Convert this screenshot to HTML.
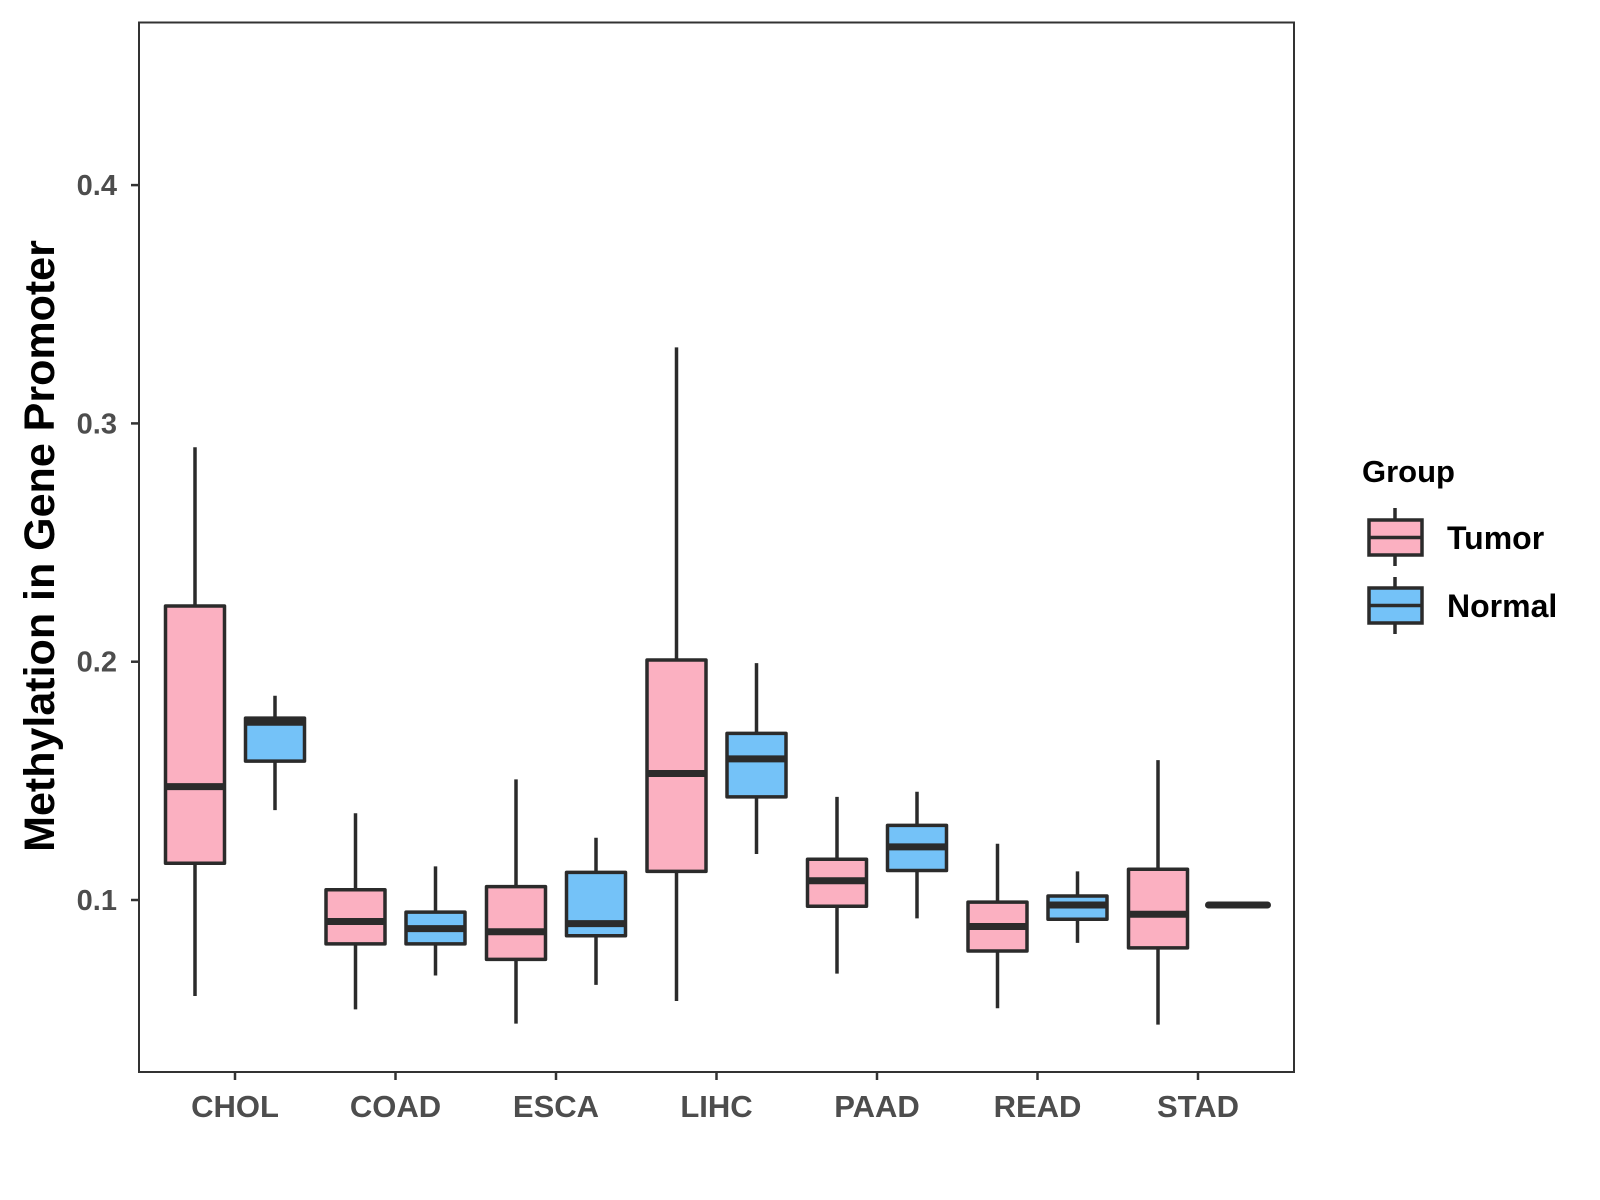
<!DOCTYPE html>
<html><head><meta charset="utf-8"><style>
html,body{margin:0;padding:0;background:#fff;}
svg{display:block;font-family:"Liberation Sans",sans-serif;}
</style></head><body>
<svg id="chart" width="1600" height="1200" viewBox="0 0 1600 1200">
<rect x="139" y="22.5" width="1155" height="1049.5" fill="#fff" stroke="#333" stroke-width="2"/>
<g id="marks"></g>
<g id="axes"></g>
<text x="0" y="0" transform="translate(54,546) rotate(-90)" text-anchor="middle" font-size="43" font-weight="bold" fill="#000">Methylation in Gene Promoter</text>
<g>
<text x="1362" y="482" font-size="31" font-weight="bold" fill="#000">Group</text>
<g>
<line x1="1395" y1="508" x2="1395" y2="566" stroke="#2b2b2b" stroke-width="3.5"/>
<rect x="1369" y="520" width="53" height="35" fill="#FBB0C1" stroke="#2b2b2b" stroke-width="3.5"/>
<line x1="1369" y1="537.5" x2="1422" y2="537.5" stroke="#2b2b2b" stroke-width="3.5"/>
<text x="1447" y="549" font-size="32" font-weight="bold" fill="#000">Tumor</text>
</g>
<g>
<line x1="1395" y1="577" x2="1395" y2="634" stroke="#2b2b2b" stroke-width="3.5"/>
<rect x="1369" y="588" width="53" height="35" fill="#74C2F8" stroke="#2b2b2b" stroke-width="3.5"/>
<line x1="1369" y1="605.5" x2="1422" y2="605.5" stroke="#2b2b2b" stroke-width="3.5"/>
<text x="1447" y="617" font-size="32" font-weight="bold" fill="#000">Normal</text>
</g>
</g>
</svg>
<script>
const categories = ["CHOL","COAD","ESCA","LIHC","PAAD","READ","STAD"];
const groups = ["Tumor","Normal"];
// [lower whisker, q1, median, q3, upper whisker]
const tumorStats = [
 [0.0597,0.1154,0.1476,0.2234,0.290],
 [0.0541,0.0816,0.091,0.1043,0.1364],
 [0.0481,0.0751,0.0867,0.1056,0.1506],
 [0.0576,0.112,0.1531,0.2007,0.3319],
 [0.0691,0.0974,0.1081,0.1171,0.1433],
 [0.0546,0.0786,0.0889,0.0991,0.1236],
 [0.0477,0.0799,0.094,0.1129,0.1587]
];
const normalStats = [
 [0.1377,0.1583,0.1746,0.1763,0.1857],
 [0.0683,0.0816,0.088,0.0949,0.1141],
 [0.0644,0.085,0.0901,0.1116,0.1261],
 [0.1193,0.1433,0.1592,0.1699,0.1994],
 [0.0923,0.1124,0.1223,0.1313,0.1454],
 [0.082,0.0919,0.0979,0.1017,0.112],
 [0.0979,0.0979,0.0979,0.0979,0.0979]
];
const yTicks = [0.1,0.2,0.3,0.4];
const yTickLabels = ["0.1","0.2","0.3","0.4"];

const NS="http://www.w3.org/2000/svg";
const y = v => 900 - (v - 0.1) * 2383;
const x = i => 235 + i * 160.5;
const marks = document.getElementById('marks');
const axes = document.getElementById('axes');
function mk(tag, attrs, parent){const e=document.createElementNS(NS,tag);for(const k in attrs)e.setAttribute(k,attrs[k]);parent.appendChild(e);return e;}
const col="#2b2b2b";
[tumorStats, normalStats].forEach((stats, gi) => {
  const fill = gi===0 ? "#FBB0C1" : "#74C2F8";
  stats.forEach((s, i) => {
    const cx = x(i) + (gi===0 ? -40 : 40);
    const hw = 29.5;
    const flat = s[3]-s[1] < 1e-9;
    const g = mk('g', {}, marks);
    
    
    mk('line',{x1:cx,x2:cx,y1:y(s[4]),y2:y(s[0]),stroke:col,'stroke-width':3.5},g);
    mk('rect',{x:cx-hw,y:y(s[3]),width:hw*2,height:Math.max(0,y(s[1])-y(s[3])),fill:fill,stroke:col,'stroke-width':3.5,'stroke-linejoin':'round'},g);
    mk('line',{x1:cx-hw,x2:cx+hw,y1:y(s[2]),y2:y(s[2]),stroke:col,'stroke-width':7,'stroke-linecap':flat?'round':'butt'},g);
  });
});
yTicks.forEach((v,i)=>{
  const t=mk('line',{x1:131,x2:139,y1:y(v),y2:y(v),stroke:'#333','stroke-width':2.5},axes);
  
  
  const l=mk('text',{x:117,y:y(v)+10,'text-anchor':'end','font-size':29,'font-weight':'bold',fill:'#4d4d4d'},axes);
  l.textContent=yTickLabels[i];
  
  
});
categories.forEach((c,i)=>{
  const t=mk('line',{x1:x(i),x2:x(i),y1:1072,y2:1080,stroke:'#333','stroke-width':2.5},axes);
  
  
  const l=mk('text',{x:x(i),y:1117,'text-anchor':'middle','font-size':31,'font-weight':'bold',fill:'#4d4d4d'},axes);
  l.textContent=c;
  
  
});
</script>
</body></html>
